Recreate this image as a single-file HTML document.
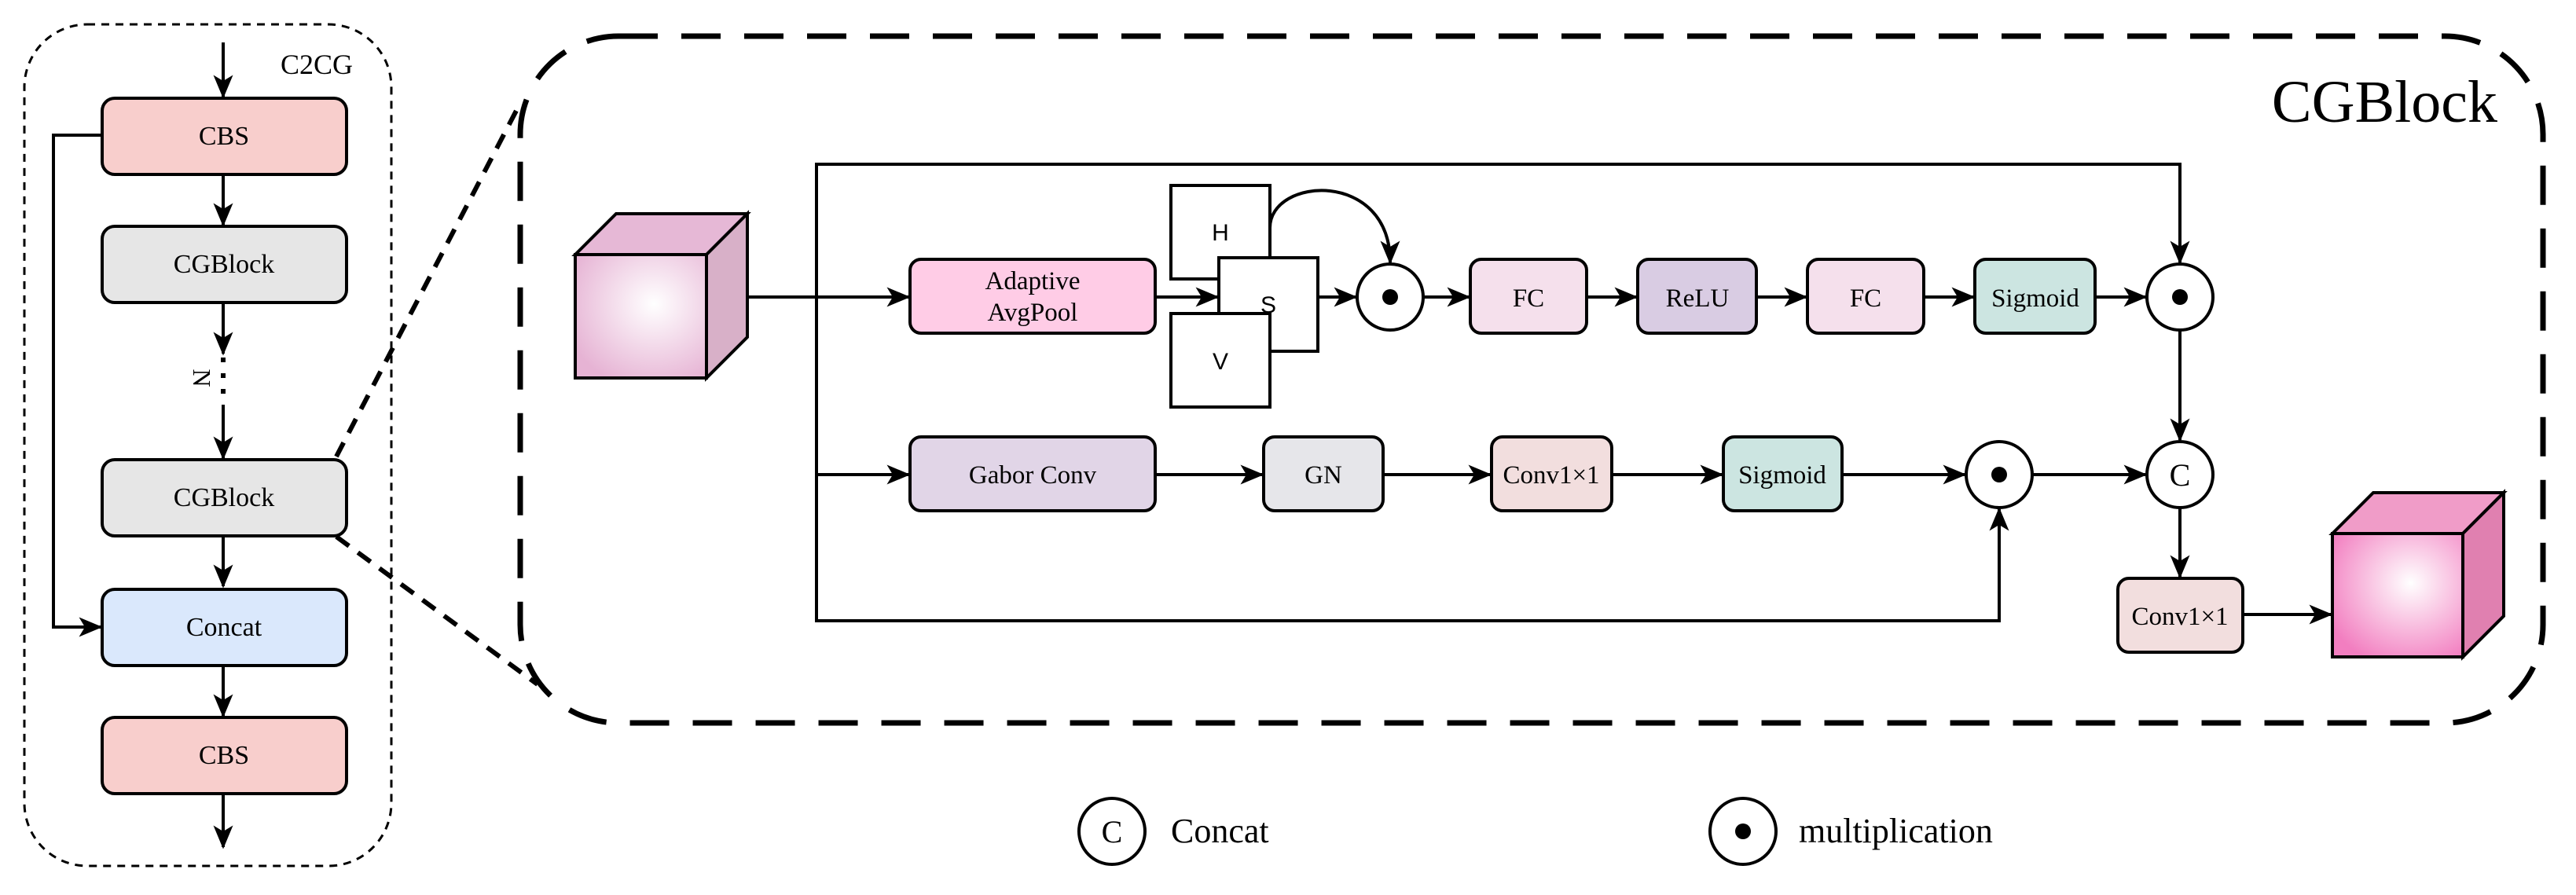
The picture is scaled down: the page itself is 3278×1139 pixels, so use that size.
<!DOCTYPE html>
<html><head><meta charset="utf-8"><style>
html,body{margin:0;padding:0;background:#fff;}
svg{display:block;font-family:"Liberation Serif",serif;}
</style></head><body>
<svg width="3278" height="1139" viewBox="0 0 3278 1139" xmlns="http://www.w3.org/2000/svg" font-family="Liberation Serif, serif">
<defs>
<marker id="ar" viewBox="0 0 12 10" refX="11" refY="5" markerWidth="30" markerHeight="26" orient="auto" markerUnits="userSpaceOnUse">
<path d="M0,0 L12,5 L0,10 L3,5 Z" fill="#000"/>
</marker>
<radialGradient id="g1" cx="0.6" cy="0.4" r="0.7">
<stop offset="0" stop-color="#ffffff"/><stop offset="1" stop-color="#e6b3d4"/></radialGradient>
<radialGradient id="g2" cx="0.6" cy="0.4" r="0.7">
<stop offset="0" stop-color="#ffffff"/><stop offset="1" stop-color="#f27ec0"/></radialGradient>
</defs>
<g stroke="#000" stroke-width="4" fill="none">
<rect x="31" y="31" width="467" height="1071" rx="80" stroke-width="3" stroke-dasharray="10,8"/>
<rect x="662" y="46" width="2574" height="874" rx="125" stroke-width="7" stroke-dasharray="50,30"/>
<line x1="428" y1="581" x2="660" y2="135" stroke-width="6" stroke-dasharray="20,14"/>
<line x1="428" y1="683" x2="684" y2="871" stroke-width="6" stroke-dasharray="20,14"/>
<line x1="284" y1="54" x2="284" y2="123" marker-end="url(#ar)"/>
<line x1="284" y1="222" x2="284" y2="286" marker-end="url(#ar)"/>
<line x1="284" y1="385" x2="284" y2="450" marker-end="url(#ar)"/>
<line x1="284" y1="455" x2="284" y2="515" stroke-dasharray="6,14" stroke-width="6"/>
<line x1="284" y1="515" x2="284" y2="583" marker-end="url(#ar)"/>
<line x1="284" y1="682" x2="284" y2="746" marker-end="url(#ar)"/>
<line x1="284" y1="847" x2="284" y2="911" marker-end="url(#ar)"/>
<line x1="284" y1="1010" x2="284" y2="1078" marker-end="url(#ar)"/>
<polyline points="130,172 68,172 68,798 128,798" marker-end="url(#ar)"/>
</g>
<g stroke="#000" stroke-width="4">
<rect x="130" y="125" width="311" height="97" rx="16" fill="#f8cecc"/>
<rect x="130" y="288" width="311" height="97" rx="16" fill="#e6e6e6"/>
<rect x="130" y="585" width="311" height="97" rx="16" fill="#e6e6e6"/>
<rect x="130" y="750" width="311" height="97" rx="16" fill="#dae8fc"/>
<rect x="130" y="913" width="311" height="97" rx="16" fill="#f8cecc"/>
</g>
<g font-size="34" text-anchor="middle" font-family="Liberation Serif, serif" style="font-family:'Liberation Serif',serif">
<text x="285" y="184">CBS</text>
<text x="285" y="347">CGBlock</text>
<text x="285" y="644">CGBlock</text>
<text x="285" y="809">Concat</text>
<text x="285" y="972">CBS</text>
<text x="403" y="94" font-size="36">C2CG</text>
<text x="0" y="0" transform="translate(246,481) rotate(90)" font-size="32">N</text>
</g>
<text x="3178" y="155" font-size="76" text-anchor="end" style="font-family:'Liberation Serif',serif">CGBlock</text>

<g stroke="#000" stroke-width="4" fill="none">
<line x1="951" y1="378" x2="1156" y2="378" marker-end="url(#ar)"/>
<polyline points="1039,378 1039,209 2774,209 2774,334" marker-end="url(#ar)"/>
<polyline points="1039,378 1039,790 2544,790 2544,648" marker-end="url(#ar)"/>
<line x1="1039" y1="604" x2="1156" y2="604" marker-end="url(#ar)"/>
<line x1="1470" y1="378" x2="1549" y2="378" marker-end="url(#ar)"/>
<line x1="1677" y1="378" x2="1725" y2="378" marker-end="url(#ar)"/>
<path d="M1616,290 C1616,225 1769,215 1769,334" marker-end="url(#ar)"/>
<line x1="1811" y1="378" x2="1869" y2="378" marker-end="url(#ar)"/>
<line x1="2019" y1="378" x2="2082" y2="378" marker-end="url(#ar)"/>
<line x1="2235" y1="378" x2="2298" y2="378" marker-end="url(#ar)"/>
<line x1="2448" y1="378" x2="2511" y2="378" marker-end="url(#ar)"/>
<line x1="2666" y1="378" x2="2730" y2="378" marker-end="url(#ar)"/>
<line x1="1470" y1="604" x2="1606" y2="604" marker-end="url(#ar)"/>
<line x1="1760" y1="604" x2="1896" y2="604" marker-end="url(#ar)"/>
<line x1="2051" y1="604" x2="2191" y2="604" marker-end="url(#ar)"/>
<line x1="2344" y1="604" x2="2500" y2="604" marker-end="url(#ar)"/>
<line x1="2586" y1="604" x2="2730" y2="604" marker-end="url(#ar)"/>
<line x1="2774" y1="420" x2="2774" y2="560" marker-end="url(#ar)"/>
<line x1="2774" y1="646" x2="2774" y2="734" marker-end="url(#ar)"/>
<line x1="2854" y1="782" x2="2966" y2="782" marker-end="url(#ar)"/>
</g>

<g stroke="#000" stroke-width="4">
<polygon points="732,324 784,272 951,272 899,324" fill="#e6b8d6"/>
<polygon points="899,324 951,272 951,429 899,481" fill="#d8b0c8"/>
<rect x="732" y="324" width="167" height="157" fill="url(#g1)"/>
<polygon points="2968,679 3020,627 3186,627 3134,679" fill="#f09cc8"/>
<polygon points="3134,679 3186,627 3186,784 3134,836" fill="#e080b0"/>
<rect x="2968" y="679" width="166" height="157" fill="url(#g2)"/>
</g>

<g stroke="#000" stroke-width="4">
<rect x="1158" y="330" width="312" height="94" rx="14" fill="#ffcce6"/>
<rect x="1490" y="236" width="126" height="119" fill="#fff"/>
<rect x="1551" y="328" width="126" height="119" fill="#fff"/>
<rect x="1490" y="399" width="126" height="119" fill="#fff"/>
<rect x="1871" y="330" width="148" height="94" rx="14" fill="#f5e0ec"/>
<rect x="2084" y="330" width="151" height="94" rx="14" fill="#d9cce3"/>
<rect x="2300" y="330" width="148" height="94" rx="14" fill="#f5e0ec"/>
<rect x="2513" y="330" width="153" height="94" rx="14" fill="#cce5e1"/>
<rect x="1158" y="556" width="312" height="94" rx="14" fill="#e1d5e7"/>
<rect x="1608" y="556" width="152" height="94" rx="14" fill="#e6e6ea"/>
<rect x="1898" y="556" width="153" height="94" rx="14" fill="#f2dede"/>
<rect x="2193" y="556" width="151" height="94" rx="14" fill="#cce5e1"/>
<rect x="2695" y="736" width="159" height="94" rx="14" fill="#f2dede"/>
<circle cx="1769" cy="378" r="42" fill="#fff"/>
<circle cx="2774" cy="378" r="42" fill="#fff"/>
<circle cx="2544" cy="604" r="42" fill="#fff"/>
<circle cx="2774" cy="604" r="42" fill="#fff"/>
<circle cx="1415" cy="1058" r="42" fill="#fff"/>
<circle cx="2218" cy="1058" r="42" fill="#fff"/>
</g>
<g fill="#000">
<circle cx="1769" cy="378" r="10"/>
<circle cx="2774" cy="378" r="10"/>
<circle cx="2544" cy="604" r="10"/>
<circle cx="2218" cy="1058" r="10"/>
</g>
<g font-size="33" text-anchor="middle" style="font-family:'Liberation Serif',serif">
<text x="1314" y="368">Adaptive</text>
<text x="1314" y="408">AvgPool</text>
<text x="1945" y="390">FC</text>
<text x="2160" y="390">ReLU</text>
<text x="2374" y="390">FC</text>
<text x="2590" y="390">Sigmoid</text>
<text x="1314" y="615">Gabor Conv</text>
<text x="1684" y="615">GN</text>
<text x="1974" y="615">Conv1×1</text>
<text x="2268" y="615">Sigmoid</text>
<text x="2774" y="618" font-size="40">C</text>
<text x="2774" y="795">Conv1×1</text>
<text x="1415" y="1072" font-size="40">C</text>
</g>
<g font-size="30" text-anchor="middle" style="font-family:'Liberation Sans',sans-serif">
<text x="1553" y="306">H</text>
<text x="1614" y="398">S</text>
<text x="1553" y="470">V</text>
</g>
<text x="1490" y="1072" font-size="44" style="font-family:'Liberation Serif',serif">Concat</text>
<text x="2289" y="1072" font-size="44" style="font-family:'Liberation Serif',serif">multiplication</text>
</svg>
</body></html>
